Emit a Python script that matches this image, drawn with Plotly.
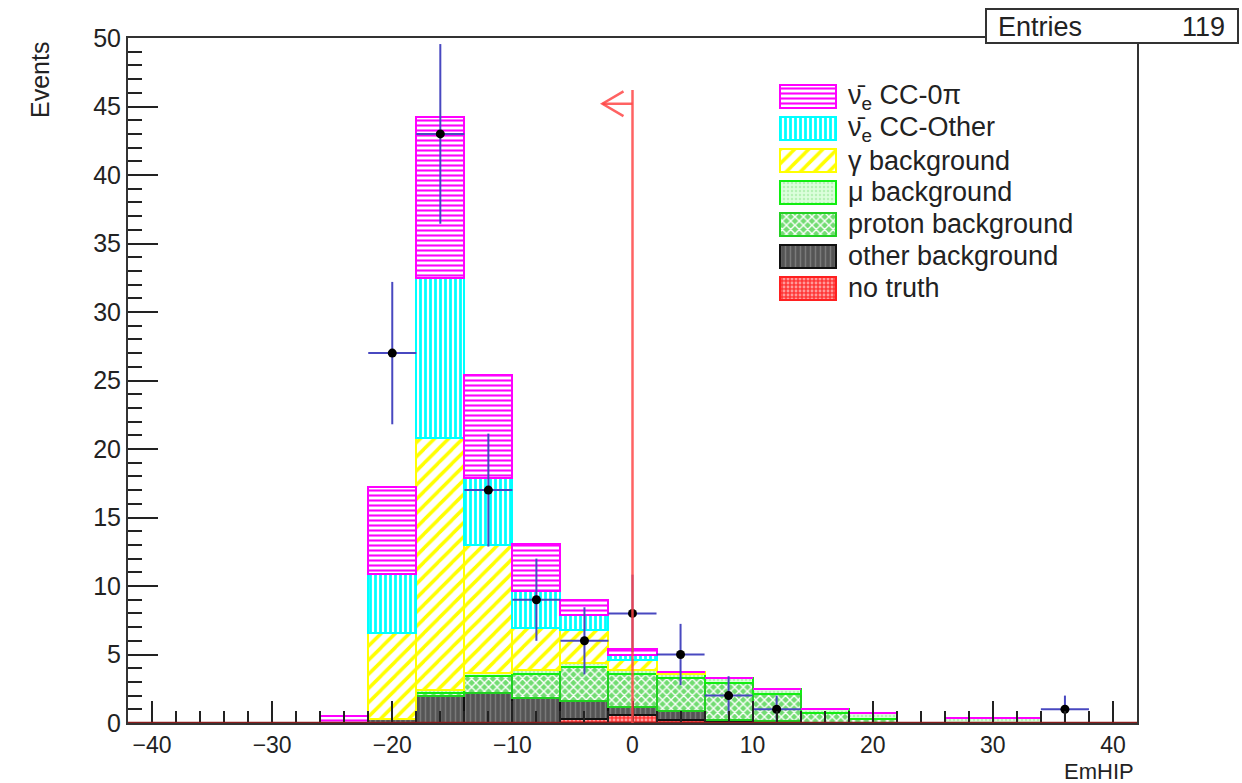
import numpy as np
import plotly.graph_objects as go

# ---------------- data ----------------
bin_centers = [-40, -36, -32, -28, -24, -20, -16, -12, -8, -4, 0, 4, 8, 12, 16, 20, 24, 28, 32, 36, 40]
bin_width = 4

no_truth   = [0, 0, 0, 0, 0,   0,    0,    0,    0,    0.3, 0.55, 0.25, 0.15, 0.15, 0,    0,   0, 0,   0,   0, 0]
other_bkg  = [0, 0, 0, 0, 0,   0.3,  2.0,  2.2,  1.8,  1.3, 0.65, 0.6,  0.1,  0,    0,    0,   0, 0,   0,   0, 0]
proton_bkg = [0, 0, 0, 0, 0,   0,    0.2,  1.2,  1.8,  2.5, 2.4,  2.45, 2.7,  2.0,  0.75, 0.3, 0, 0,   0,   0, 0]
mu_bkg     = [0, 0, 0, 0, 0,   0,    0.2,  0.27, 0.27, 0.3, 0.3,  0.28, 0.3,  0.3,  0.3,  0.4, 0, 0.4, 0.4, 0, 0]
gamma_bkg  = [0, 0, 0, 0, 0,   6.3,  18.4, 9.3,  3.1,  2.4, 0.7,  0.15, 0,    0,    0,    0,   0, 0,   0,   0, 0]
cc_other   = [0, 0, 0, 0, 0,   4.3,  11.7, 4.9,  2.7,  1.1, 0.4,  0,    0,    0,    0,    0,   0, 0,   0,   0, 0]
cc_0pi     = [0, 0, 0, 0, 0.5, 6.3,  11.7, 7.5,  3.4,  1.1, 0.4,  0,    0,    0,    0,    0,   0, 0,   0,   0, 0]

data_x = [-20, -16, -12, -8, -4, 0, 4, 8, 12, 36]
data_y = [27, 43, 17, 9, 6, 8, 5, 2, 1, 1]
entries = sum(data_y)

cut_value = 0
cut_line_top = 46.2
cut_arrow_y = 45.2
cut_arrow_len = 2.5

# ---------------- styles (bottom -> top) ----------------
components = [
    dict(name="no truth", vals=no_truth, bg="#ff3838", fg="#ff9a9a", shape=".", size=4, sol=0.4, line="#ff2020"),
    dict(name="other background", vals=other_bkg, bg="#555555", fg="#7a7a7a", shape="|", size=5, sol=0.3, line="#111111"),
    dict(name="proton background", vals=proton_bkg, bg="#72dc72", fg="#ffffff", shape="x", size=6, sol=0.4, line="#22d022"),
    dict(name="μ background", vals=mu_bkg, bg="#dcffdc", fg="#b6f2b6", shape=".", size=4, sol=0.3, line="#11ee11"),
    dict(name="γ background", vals=gamma_bkg, bg="#ffffff", fg="#ffff00", shape="/", size=10, sol=0.35, line="#ffff00"),
    dict(name="ν̄<sub>e</sub> CC-Other", vals=cc_other, bg="#ffffff", fg="#00ffff", shape="|", size=5, sol=0.55, line="#00ffff"),
    dict(name="ν̄<sub>e</sub> CC-0π", vals=cc_0pi, bg="#ffffff", fg="#ff00ff", shape="-", size=5, sol=0.42, line="#ff00ff"),
]

fig = go.Figure()

for c in components:
    fig.add_trace(go.Bar(
        x=bin_centers, y=c["vals"], width=bin_width, name=c["name"], showlegend=False,
        marker=dict(color=c["bg"],
                    line=dict(color=c["line"], width=2),
                    pattern=dict(shape=c["shape"], fgcolor=c["fg"], bgcolor=c["bg"],
                                 size=c["size"], solidity=c["sol"], fillmode="replace")),
        xaxis="x", yaxis="y", hoverinfo="skip",
    ))

# data points
fig.add_trace(go.Scatter(
    x=data_x, y=data_y, mode="markers", showlegend=False,
    marker=dict(color="black", size=9),
    error_y=dict(type="data", array=list(np.sqrt(data_y)), color="#4848c0", thickness=2, width=0),
    error_x=dict(type="constant", value=bin_width / 2, color="#4848c0", thickness=2, width=0),
    xaxis="x", yaxis="y",
))

# ---------------- custom legend (swatches as bars on inset axes) ----------------
legend_order = list(reversed(components))
for i, c in enumerate(legend_order):
    fig.add_trace(go.Bar(
        x=[1], y=[i], base=0, width=0.72, orientation="h", showlegend=False,
        marker=dict(color=c["bg"],
                    line=dict(color=c["line"], width=2.5),
                    pattern=dict(shape=c["shape"], fgcolor=c["fg"], bgcolor=c["bg"],
                                 size=c["size"], solidity=c["sol"], fillmode="replace")),
        xaxis="x2", yaxis="y2", hoverinfo="skip",
    ))

W, H = 1242, 783
L, R, T, B = 128, 105, 38, 60
pw, ph = W - L - R, H - T - B


def px(xp):
    return (xp - L) / pw


def py(yp):
    return (H - B - yp) / ph


font_family = "Liberation Sans, Arial, sans-serif"
txt_color = "#222222"

annotations = []
for i, c in enumerate(legend_order):
    annotations.append(dict(
        x=px(846), y=i, xref="paper", yref="y2", text=c["name"], showarrow=False,
        xanchor="left", yanchor="middle", font=dict(size=27, color=txt_color, family=font_family)))

annotations += [
    dict(x=px(40), y=py(40), xref="paper", yref="paper", text="Events", textangle=-90,
         showarrow=False, xanchor="center", yanchor="top",
         font=dict(size=25, color=txt_color, family=font_family)),
    dict(x=px(1136), y=py(771), xref="paper", yref="paper", text="EmHIP",
         showarrow=False, xanchor="right", yanchor="middle",
         font=dict(size=22, color=txt_color, family=font_family)),
    dict(x=px(996), y=py(27), xref="paper", yref="paper", text="Entries",
         showarrow=False, xanchor="left", yanchor="middle",
         font=dict(size=27, color=txt_color, family=font_family)),
    dict(x=px(1227), y=py(27), xref="paper", yref="paper", text=str(entries),
         showarrow=False, xanchor="right", yanchor="middle",
         font=dict(size=27, color=txt_color, family=font_family)),
]

cut_color = "rgba(255,70,70,0.85)"
shapes = [
    # red baseline (no-truth outline along zero)
    dict(type="line", xref="x", yref="y", x0=-42, x1=42, y0=0, y1=0,
         line=dict(color="#8a1c1c", width=2.5), layer="above"),
    # cut line and arrow
    dict(type="line", xref="x", yref="y", x0=cut_value, x1=cut_value, y0=0, y1=cut_line_top,
         line=dict(color=cut_color, width=2.5), layer="above"),
    dict(type="line", xref="x", yref="y", x0=cut_value - cut_arrow_len, x1=cut_value,
         y0=cut_arrow_y, y1=cut_arrow_y, line=dict(color=cut_color, width=2.5), layer="above"),
    dict(type="path", xref="x", yref="y",
         path=f"M {cut_value - 0.75},{cut_arrow_y + 0.9} L {cut_value - cut_arrow_len},{cut_arrow_y} "
              f"L {cut_value - 0.75},{cut_arrow_y - 0.9}",
         line=dict(color=cut_color, width=2.5), layer="above"),
    # stats box
    dict(type="rect", xref="paper", yref="paper", x0=px(986), x1=px(1238), y0=py(43), y1=py(9),
         line=dict(color="#333333", width=2), fillcolor="white", layer="above"),
]

axis_common = dict(showgrid=False, zeroline=False, showline=True, linecolor="#333333", linewidth=2,
                   mirror=True, ticks="inside", tickwidth=2, tickcolor="#222222")

fig.update_layout(
    width=W, height=H,
    margin=dict(l=L, r=R, t=T, b=B),
    paper_bgcolor="white", plot_bgcolor="white",
    barmode="stack", bargap=0,
    showlegend=False,
    xaxis=dict(range=[-42, 42], tick0=0, dtick=10, ticklen=22,
               tickfont=dict(size=23, color=txt_color, family=font_family),
               minor=dict(tick0=0, dtick=2, ticklen=12, ticks="inside", tickwidth=2, tickcolor="#222222"),
               **axis_common),
    yaxis=dict(range=[0, 50], tick0=0, dtick=5, ticklen=30,
               tickfont=dict(size=25, color=txt_color, family=font_family),
               minor=dict(tick0=0, dtick=1, ticklen=14, ticks="inside", tickwidth=2, tickcolor="#222222"),
               **axis_common),
    xaxis2=dict(domain=[px(778), px(838)], range=[-0.04, 1.04], visible=False, anchor="y2", fixedrange=True),
    yaxis2=dict(domain=[py(304), py(81)], range=[6.5, -0.5], visible=False, anchor="x2", fixedrange=True),
    annotations=annotations,
    shapes=shapes,
)

fig.write_html("out.html")
